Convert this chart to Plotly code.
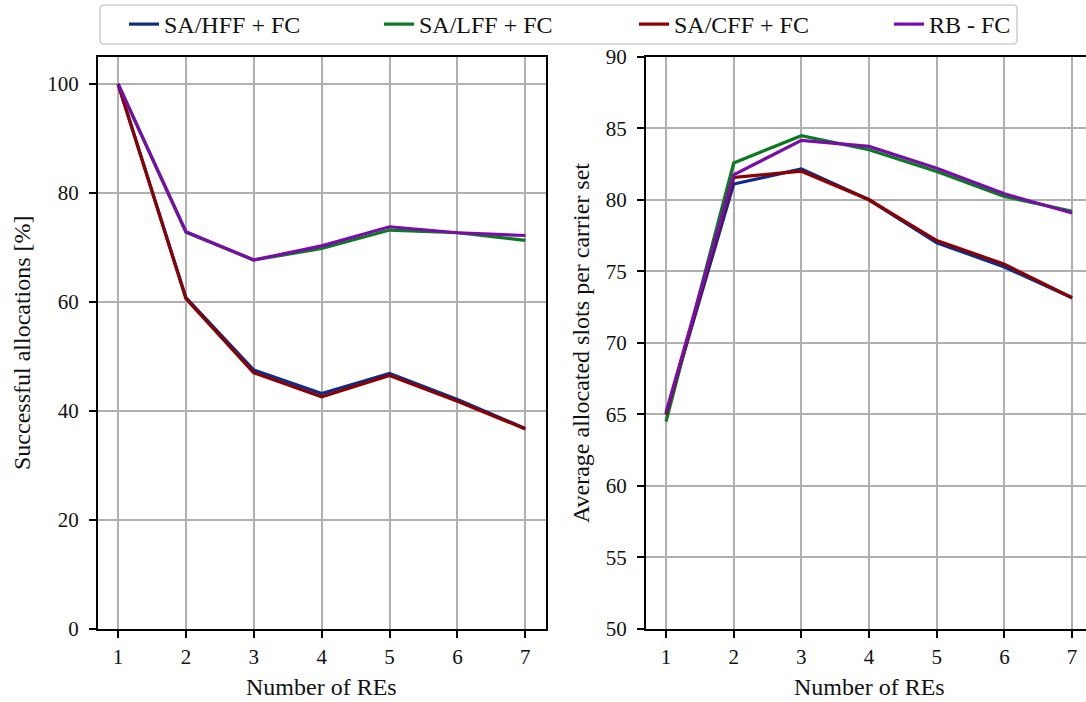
import plotly.graph_objects as go

# Number of REs on the x axis
num_res = [1, 2, 3, 4, 5, 6, 7]

# Successful allocations [%]
succ_hff = [100.0, 60.8, 47.5, 43.2, 46.9, 42.1, 36.8]
succ_lff = [100.0, 72.8, 67.7, 69.8, 73.2, 72.7, 71.3]
succ_cff = [100.0, 60.6, 47.0, 42.6, 46.5, 41.8, 36.7]
succ_rb = [100.0, 72.9, 67.7, 70.3, 73.8, 72.7, 72.2]

# Average allocated slots per carrier set
slots_hff = [65.0, 81.1, 82.15, 80.0, 77.0, 75.3, 73.15]
slots_lff = [64.5, 82.57, 84.48, 83.5, 81.98, 80.23, 79.2]
slots_cff = [65.0, 81.56, 82.0, 80.0, 77.15, 75.5, 73.15]
slots_rb = [65.13, 81.75, 84.15, 83.73, 82.2, 80.42, 79.07]

series_names = ["SA/HFF + FC", "SA/LFF + FC", "SA/CFF + FC", "RB - FC"]
series_colors = ["#0c2c8c", "#0a7a20", "#8b0000", "#7a0cab"]

left_values = [succ_hff, succ_lff, succ_cff, succ_rb]
right_values = [slots_hff, slots_lff, slots_cff, slots_rb]

left_yticks = [0, 20, 40, 60, 80, 100]
right_yticks = [50, 55, 60, 65, 70, 75, 80, 85, 90]

W, H = 1086, 702
FONT = "Liberation Serif, Times New Roman, serif"

fig = go.Figure()

for name, color, vals in zip(series_names, series_colors, left_values):
    fig.add_trace(go.Scatter(
        x=num_res, y=vals, mode="lines", name=name,
        line=dict(color=color, width=3.2), xaxis="x", yaxis="y",
        legendgroup=name, showlegend=True,
    ))
for name, color, vals in zip(series_names, series_colors, right_values):
    fig.add_trace(go.Scatter(
        x=num_res, y=vals, mode="lines", name=name,
        line=dict(color=color, width=3.2), xaxis="x2", yaxis="y2",
        legendgroup=name, showlegend=False,
    ))


def px_x(p):
    return p / W


def px_y(p):
    return 1 - p / H


y_dom = [px_y(629), px_y(56.7)]

axis_common = dict(
    showline=True, linecolor="black", linewidth=1.6,
    ticks="outside", ticklen=7, tickwidth=1.5, tickcolor="black",
    showgrid=True, gridcolor="#b0b0b0", gridwidth=1.5,
    zeroline=False, automargin=False,
    tickfont=dict(family=FONT, size=21, color="#111111"),
)

fig.update_layout(
    width=W, height=H, autosize=False,
    margin=dict(l=0, r=0, t=0, b=0, autoexpand=False),
    paper_bgcolor="white", plot_bgcolor="white",
    xaxis=dict(domain=[px_x(97.7), px_x(545.7)], range=[0.7, 7.3],
               tickvals=num_res, anchor="y", mirror=True,
               ticklabelstandoff=1, **axis_common),
    yaxis=dict(domain=y_dom, range=[0, 105], tickvals=left_yticks,
               anchor="x", mirror=True, ticklabelstandoff=6, **axis_common),
    xaxis2=dict(domain=[px_x(645.7), 1.0], range=[0.7, 7.206],
                tickvals=num_res, anchor="y2", mirror=True,
                ticklabelstandoff=1, **axis_common),
    yaxis2=dict(domain=y_dom, range=[50, 90], tickvals=right_yticks,
                anchor="x2", mirror=False, ticklabelstandoff=6, **axis_common),
    legend=dict(
        orientation="h", x=px_x(124), xanchor="left",
        y=px_y(24.5), yanchor="middle",
        font=dict(family=FONT, size=24, color="#111111"),
        borderwidth=0, bgcolor="rgba(0,0,0,0)",
        entrywidth=210, entrywidthmode="pixels",
    ),
    showlegend=True,
)

# Rounded frame around the legend row
x0, x1 = px_x(100), px_x(1017)
y0, y1 = px_y(44), px_y(5)
rx, ry = 4 / W, 4 / H
frame_path = (
    f"M {x0 + rx},{y0} L {x1 - rx},{y0} Q {x1},{y0} {x1},{y0 + ry} "
    f"L {x1},{y1 - ry} Q {x1},{y1} {x1 - rx},{y1} "
    f"L {x0 + rx},{y1} Q {x0},{y1} {x0},{y1 - ry} "
    f"L {x0},{y0 + ry} Q {x0},{y0} {x0 + rx},{y0} Z"
)
fig.add_shape(type="path", path=frame_path, xref="paper", yref="paper",
              line=dict(color="#d0d0d0", width=1.6), fillcolor="rgba(0,0,0,0)")

title_font = dict(family=FONT, size=24, color="#111111")
annotations = [
    dict(text="Number of REs", x=px_x(321.7), y=px_y(687),
         xref="paper", yref="paper", showarrow=False, font=title_font,
         xanchor="center", yanchor="middle"),
    dict(text="Number of REs", x=px_x(869), y=px_y(687),
         xref="paper", yref="paper", showarrow=False, font=title_font,
         xanchor="center", yanchor="middle"),
    dict(text="Successful allocations [%]", x=px_x(22), y=px_y(343),
         xref="paper", yref="paper", showarrow=False, font=title_font,
         textangle=-90, xanchor="center", yanchor="middle"),
    dict(text="Average allocated slots per carrier set", x=px_x(581), y=px_y(343),
         xref="paper", yref="paper", showarrow=False, font=title_font,
         textangle=-90, xanchor="center", yanchor="middle"),
]
fig.update_layout(annotations=annotations)

fig.write_html("out.html")
